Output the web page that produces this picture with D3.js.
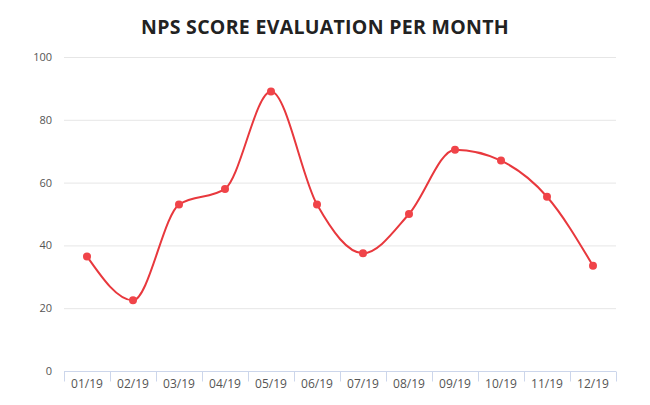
<!DOCTYPE html>
<html>
<head>
<meta charset="utf-8">
<script src="https://cdn.jsdelivr.net/npm/d3@7"></script>
<style>
  body { margin: 0; background: #fff; }
  text { font-family: "Open Sans", "DejaVu Sans", sans-serif; }
</style>
</head>
<body>
<div id="chart"></div>
<script>
// Data
const months = ["01/19", "02/19", "03/19", "04/19", "05/19", "06/19",
                "07/19", "08/19", "09/19", "10/19", "11/19", "12/19"];
const npsScores = [36.5, 22.5, 53, 58, 89, 53, 37.5, 50, 70.5, 67, 55.5, 33.5];
const yTicks = [0, 20, 40, 60, 80, 100];

const width = 650;
const height = 405;
const margin = { top: 57, right: 34, bottom: 34, left: 64 };

const svg = d3.select("#chart")
  .append("svg")
  .attr("width", width)
  .attr("height", height);

// Title
svg.append("text")
  .attr("x", width / 2)
  .attr("y", 34)
  .attr("text-anchor", "middle")
  .attr("font-size", 19.5)
  .attr("font-weight", "bold")
  .attr("letter-spacing", 0.3)
  .attr("fill", "#222")
  .text("NPS SCORE EVALUATION PER MONTH");

// Scales
const xScale = d3.scaleBand()
  .domain(months)
  .range([margin.left, width - margin.right]);
const yScale = d3.scaleLinear()
  .domain([0, 100])
  .range([height - margin.bottom, margin.top]);

// Gridlines
svg.append("g")
  .selectAll("line")
  .data(yTicks)
  .enter()
  .append("line")
    .attr("x1", margin.left)
    .attr("x2", width - margin.right)
    .attr("y1", d => yScale(d) + 0.5)
    .attr("y2", d => yScale(d) + 0.5)
    .attr("stroke", "#e6e6e6");

// Y axis labels
svg.append("g")
  .selectAll("text")
  .data(yTicks)
  .enter()
  .append("text")
    .attr("x", 52)
    .attr("y", d => yScale(d) + 4)
    .attr("text-anchor", "end")
    .attr("font-size", 11)
    .attr("fill", "#555")
    .text(d => d);

// X axis
const xAxis = svg.append("g")
  .attr("transform", `translate(0, ${height - margin.bottom + 0.5})`);
xAxis.append("line")
  .attr("x1", margin.left)
  .attr("x2", width - margin.right)
  .attr("stroke", "#ccd6eb");
const boundaries = months.map(m => xScale(m)).concat([width - margin.right]);
xAxis.selectAll(".tick")
  .data(boundaries)
  .enter()
  .append("line")
    .attr("x1", d => d + 0.5)
    .attr("x2", d => d + 0.5)
    .attr("y1", 0)
    .attr("y2", 10)
    .attr("stroke", "#ccd6eb");
xAxis.selectAll(".label")
  .data(months)
  .enter()
  .append("text")
    .attr("x", d => xScale(d) + xScale.bandwidth() / 2)
    .attr("y", 16)
    .attr("text-anchor", "middle")
    .attr("font-size", 12)
    .attr("fill", "#555")
    .text(d => d);

// Line
const lineGenerator = d3.line()
  .curve(d3.curveMonotoneX)
  .x((d, i) => xScale(months[i]) + xScale.bandwidth() / 2)
  .y(d => yScale(d));

svg.append("path")
  .datum(npsScores)
  .attr("fill", "none")
  .attr("stroke", "#e8383d")
  .attr("stroke-width", 2)
  .attr("d", lineGenerator);

// Markers
svg.append("g")
  .selectAll("circle")
  .data(npsScores)
  .enter()
  .append("circle")
    .attr("cx", (d, i) => xScale(months[i]) + xScale.bandwidth() / 2)
    .attr("cy", d => yScale(d))
    .attr("r", 4)
    .attr("fill", "#f04449");
</script>
</body>
</html>
